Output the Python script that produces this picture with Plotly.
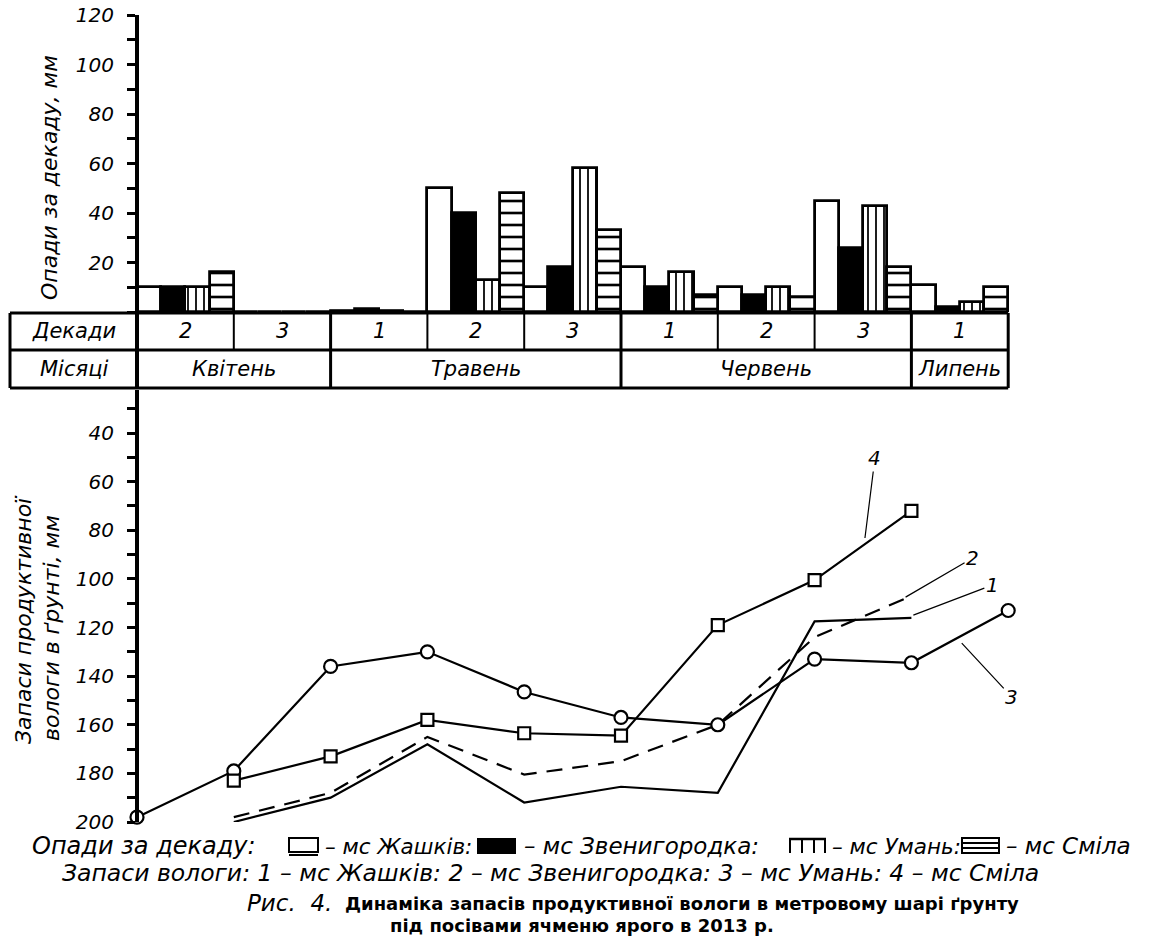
import plotly.graph_objects as go

# ---------------- data ----------------
decade_labels = ["2", "3", "1", "2", "3", "1", "2", "3", "1"]
month_labels = ["Квітень", "Травень", "Червень", "Липень"]
month_spans = [(0, 2), (2, 5), (5, 8), (8, 9)]

# precipitation per decade, mm
precip_zhashkiv = [10, 0, 0.6, 50, 10, 18, 10, 45, 11]
precip_zven = [10, 0, 1.4, 40, 18, 10, 7, 26, 2]
precip_uman = [10, 0, 0.6, 13, 58, 16, 10, 43, 4]
precip_smila = [16, 0, 0.2, 48, 33, 7, 6, 18, 10]

# soil moisture reserves at decade boundaries, mm
moist_x = [0, 1, 2, 3, 4, 5, 6, 7, 8, 9]
moist_zhashkiv = [None, 200, 190, 168, 192, 185.5, 188, 117.5, 116, None]
moist_zven = [None, 198, 188, 165, 180.5, 175, 160, 124, 107, None]
moist_uman = [198, 179, 136, 130, 146.5, 157, 160, 133, 134.5, 113]
moist_smila = [None, 183, 173, 158, 163.5, 164.5, 119, 100.5, 72, None]

# ---------------- layout helpers ----------------
W, H = 1165, 951
AX_PX = 137.0     # pixel of the y axes / first decade boundary
COL_PX = 96.8     # pixel width of one decade


def PX(x):
    return x / W


def PY(y):
    return 1 - y / H


FONT = "DejaVu Sans"
BLACK = "#000000"

centers = [i + 0.5 for i in range(len(decade_labels))]

fig = go.Figure()

bar_specs = [
    ("мс Жашків", precip_zhashkiv, "white", ""),
    ("мс Звенигородка", precip_zven, "black", ""),
    ("мс Умань", precip_uman, "white", "|"),
    ("мс Сміла", precip_smila, "white", "-"),
]
for name, vals, col, pat in bar_specs:
    marker = dict(color=col, line=dict(color=BLACK, width=2.8))
    if pat:
        marker["pattern"] = dict(shape=pat, fgcolor=BLACK, bgcolor="white",
                                 fillmode="replace",
                                 size=8 if pat == "|" else 12, solidity=0.22)
    fig.add_trace(go.Bar(x=centers, y=vals, name=name, marker=marker,
                         xaxis="x", yaxis="y", showlegend=False))

line_specs = [
    (moist_zhashkiv, "solid", None),
    (moist_zven, "16px,10px", None),
    (moist_uman, "solid", "circle"),
    (moist_smila, "solid", "square"),
]
for vals, dash, sym in line_specs:
    kw = dict(mode="lines")
    if sym:
        kw = dict(mode="lines+markers",
                  marker=dict(symbol=sym, size=13 if sym == "circle" else 12,
                              color="white", line=dict(color=BLACK, width=2.2)))
    fig.add_trace(go.Scatter(x=moist_x, y=vals, line=dict(color=BLACK, width=2.2, dash=dash),
                             xaxis="x", yaxis="y2", showlegend=False, cliponaxis=False,
                             connectgaps=False, **kw))

tickfont = dict(family=FONT, size=20, color=BLACK, style="italic")
axis_common = dict(anchor="free", position=PX(AX_PX), showline=True, linewidth=4,
                   linecolor=BLACK, showgrid=False, zeroline=False, ticks="outside",
                   ticklen=8, tickwidth=3, tickcolor=BLACK, tickfont=tickfont,
                   ticklabelstandoff=9, automargin=False,
                   minor=dict(dtick=10, tick0=0, ticks="outside", ticklen=8, tickwidth=3,
                              tickcolor=BLACK))

fig.update_layout(
    width=W, height=H,
    margin=dict(l=0, r=0, t=0, b=0, autoexpand=False),
    paper_bgcolor="white", plot_bgcolor="white",
    barmode="group", bargap=0, bargroupgap=0,
    xaxis=dict(domain=[0, 1], range=[-AX_PX / COL_PX, (W - AX_PX) / COL_PX],
               visible=False, showgrid=False, zeroline=False, automargin=False),
    yaxis=dict(domain=[PY(312), PY(15)], range=[0, 120],
               tickvals=[20, 40, 60, 80, 100, 120], **axis_common),
    yaxis2=dict(domain=[PY(822), PY(390)], range=[200, 22.3],
                tickvals=[40, 60, 80, 100, 120, 140, 160, 180, 200], **axis_common),
)

# ---------------- table below the bars ----------------
shapes = []
x_left = (10 - AX_PX) / COL_PX
n = len(decade_labels)
row_top, row_mid, row_bot = PY(313), PY(350), PY(388)


def hline(x0, x1, y, w):
    shapes.append(dict(type="line", xref="x", yref="paper", x0=x0, x1=x1, y0=y, y1=y,
                       line=dict(color=BLACK, width=w)))


def vline(x, y0, y1, w):
    shapes.append(dict(type="line", xref="x", yref="paper", x0=x, x1=x, y0=y0, y1=y1,
                       line=dict(color=BLACK, width=w)))


hline(x_left, n, row_top, 3)
hline(x_left, n, row_mid, 3)
hline(x_left, n, row_bot, 3)
vline(x_left, row_top, row_bot, 3)
vline(0, row_top, row_bot, 4)
vline(n, row_top, row_bot, 3)
month_bounds = {a for a, b in month_spans} | {b for a, b in month_spans}
for i in range(1, n):
    if i in month_bounds:
        vline(i, row_top, row_bot, 3)
    else:
        vline(i, row_top, row_mid, 2)

annotations = []
cell_font = dict(family=FONT, size=21, color=BLACK, style="italic")


def ann(**kw):
    kw.setdefault("showarrow", False)
    kw.setdefault("xanchor", "center")
    kw.setdefault("yanchor", "middle")
    annotations.append(kw)


ann(xref="x", yref="paper", x=(x_left + 0) / 2, y=(row_top + row_mid) / 2,
    text="Декади", font=cell_font)
ann(xref="x", yref="paper", x=(x_left + 0) / 2, y=(row_mid + row_bot) / 2,
    text="Місяці", font=cell_font)
for c, lab in zip(centers, decade_labels):
    ann(xref="x", yref="paper", x=c, y=(row_top + row_mid) / 2, text=lab, font=cell_font)
for lab, (a, b) in zip(month_labels, month_spans):
    ann(xref="x", yref="paper", x=(a + b) / 2, y=(row_mid + row_bot) / 2, text=lab,
        font=cell_font)

# ---------------- series labels with leader lines ----------------
lab_font = dict(family=FONT, size=20, color=BLACK, style="italic")
for txt, xx, yy, ax, ay in [("4", 7.52, 83.2, 10, -80), ("2", 7.94, 107.5, 67, -39),
                            ("1", 8.02, 114.9, 79, -30), ("3", 8.52, 126.4, 50, 54)]:
    annotations.append(dict(xref="x", yref="y2", x=xx, y=yy, ax=ax, ay=ay, text=txt,
                            showarrow=True, arrowhead=0, arrowwidth=1.2, arrowcolor=BLACK,
                            font=lab_font))

# ---------------- axis titles ----------------
title_font = dict(family=FONT, size=22, color=BLACK, style="italic")
ann(xref="paper", yref="paper", x=PX(50), y=PY(178), textangle=-90,
    text="Опади за декаду, мм", font=title_font)
ann(xref="paper", yref="paper", x=PX(23), y=PY(620), textangle=-90,
    text="Запаси продуктивної", font=title_font)
ann(xref="paper", yref="paper", x=PX(51), y=PY(628), textangle=-90,
    text="вологи в ґрунті, мм", font=title_font)

# ---------------- legend lines ----------------
ly1 = 846
for txt, x, sz in [("Опади за декаду:", 30, 24), ("– мс Жашків:", 323, 21.5),
                   ("– мс Звенигородка:", 522, 23), ("– мс Умань:", 830, 21.5),
                   ("– мс Сміла", 1004, 23)]:
    ann(xref="paper", yref="paper", x=PX(x), y=PY(ly1), xanchor="left", text=txt,
        font=dict(family=FONT, size=sz, color=BLACK, style="italic"))


def rect(x0, y0, x1, y1, fill="white", w=2):
    shapes.append(dict(type="rect", xref="paper", yref="paper", x0=PX(x0), x1=PX(x1),
                       y0=PY(y1), y1=PY(y0), fillcolor=fill, line=dict(color=BLACK, width=w)))


def seg(x0, y0, x1, y1, w=2):
    shapes.append(dict(type="line", xref="paper", yref="paper", x0=PX(x0), x1=PX(x1),
                       y0=PY(y0), y1=PY(y1), line=dict(color=BLACK, width=w)))


# white box (Zhashkiv)
rect(289, 838, 318, 852)
seg(289, 855, 318, 855, 2)
# black box (Zvenyhorodka)
rect(478, 839, 515, 853, fill="black")
# vertical hatched (Uman)
seg(789, 839, 826, 839, 2.5)
for xx in (790, 802, 814, 825):
    seg(xx, 839, xx, 853, 2)
# horizontal hatched (Smila)
rect(962, 838, 999, 853)
for yy in (843, 848):
    seg(962, yy, 999, yy, 2)

ann(xref="paper", yref="paper", x=PX(60), y=PY(873), xanchor="left",
    text="Запаси вологи: 1 – мс Жашків: 2 – мс Звенигородка: 3 – мс Умань: 4 – мс Сміла",
    font=dict(family=FONT, size=23.5, color=BLACK, style="italic"))

# ---------------- caption ----------------
ann(xref="paper", yref="paper", x=PX(334), y=PY(903), xanchor="right",
    text="Рис.\u00a0\u00a04.", font=dict(family=FONT, size=23, color=BLACK, style="italic"))
ann(xref="paper", yref="paper", x=PX(343), y=PY(903), xanchor="left",
    text="<b>Динаміка запасів продуктивної вологи в метровому шарі ґрунту</b>",
    font=dict(family=FONT, size=18, color=BLACK))
ann(xref="paper", yref="paper", x=PX(582), y=PY(925),
    text="<b>під посівами ячменю ярого в 2013 р.</b>",
    font=dict(family=FONT, size=18, color=BLACK))

fig.update_layout(shapes=shapes, annotations=annotations)
fig.write_html("out.html", config={"displayModeBar": False},
               post_script="document.body.style.margin='0';document.body.style.padding='0';")
